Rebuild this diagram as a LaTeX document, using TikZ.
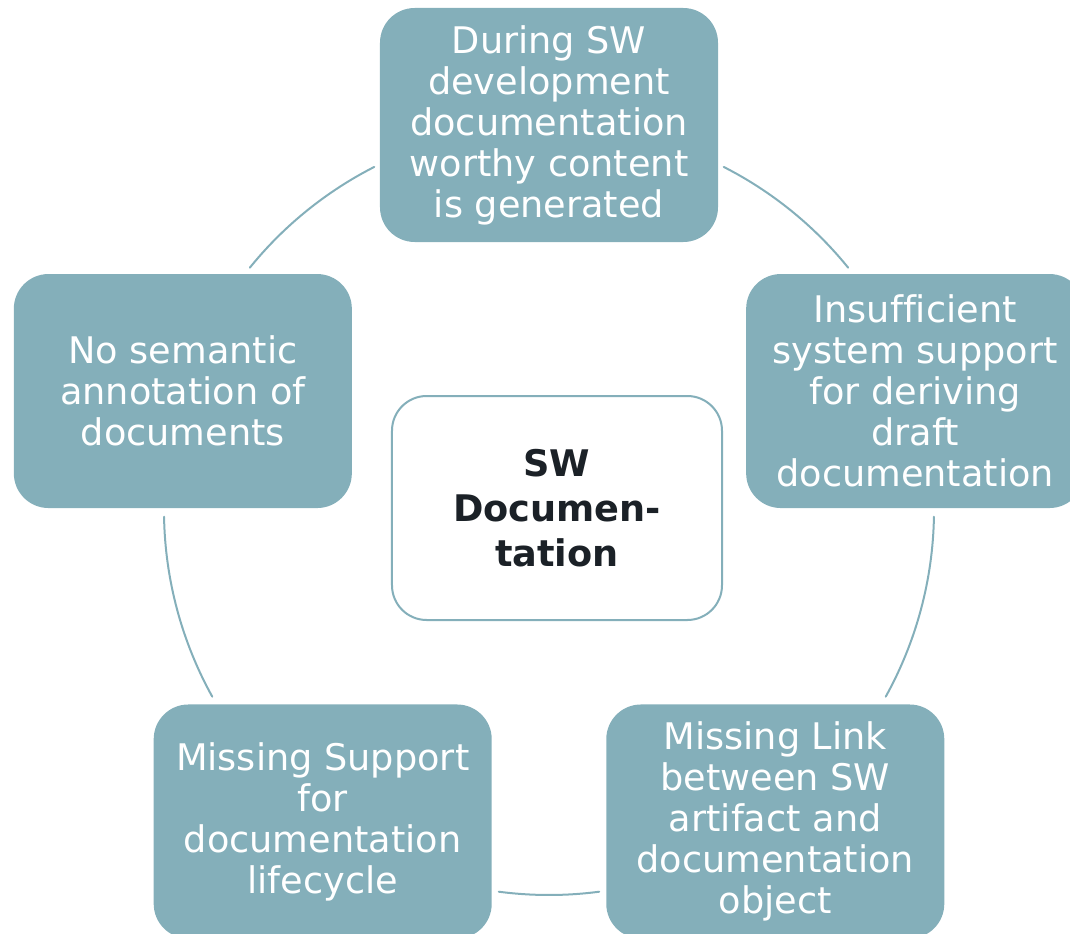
\documentclass[tikz,border=0pt]{standalone}
\usepackage{fontspec}
\setmainfont[Ligatures=NoCommon]{DejaVu Sans}
\definecolor{box_teal}{RGB}{132,175,186}
\definecolor{label_dark}{RGB}{27,33,39}
\tikzset{
	issue/.style={fill=box_teal, rounded corners=26pt, minimum width=253.5pt, minimum height=175.5pt,
		inner sep=0pt, align=center, text=white, font=\fontsize{27.5}{30.75}\selectfont},
	hub/.style={draw=box_teal, line width=1.5pt, fill=white, rounded corners=26pt, minimum width=247.5pt,
		minimum height=168pt, inner sep=0pt, align=center, text=label_dark, font=\fontsize{27.5}{33.5}\selectfont\bfseries},
	ring/.style={draw=box_teal, line width=1.5pt}
}

\begin{document}
\begin{tikzpicture}[x=0.75pt,y=0.75pt,line join=round,line cap=round]
		\clip (-549,510) rectangle (521,-423);
		\coordinate (c) at (0,0);
		% arcs of the cycle
		\foreach\a/\b in {63/39, -1/-29, -82.5/-97.5, 209/181, 141/117}
			\draw[ring] (\a:385) arc[start angle=\a, end angle=\b, radius=385];
		% the five issues
		\node[issue] (gen)  at (90:385)   {During SW\\development\\documentation\\worthy content\\is generated};
		\node[issue] (sys)  at (18:385)   {Insufficient\\system support\\for deriving\\draft\\documentation};
		\node[issue] (link) at (-54:385)  {Missing Link\\between SW\\artifact and\\documentation\\object};
		\node[issue] (life) at (-126:385) {Missing Support\\for\\documentation\\lifecycle};
		\node[issue] (sem)  at (162:385)  {No semantic\\annotation of\\documents};
		\node[hub]   (doc)  at (8,2)      {SW\\Documen-\\tation};
	\end{tikzpicture}
\end{document}
